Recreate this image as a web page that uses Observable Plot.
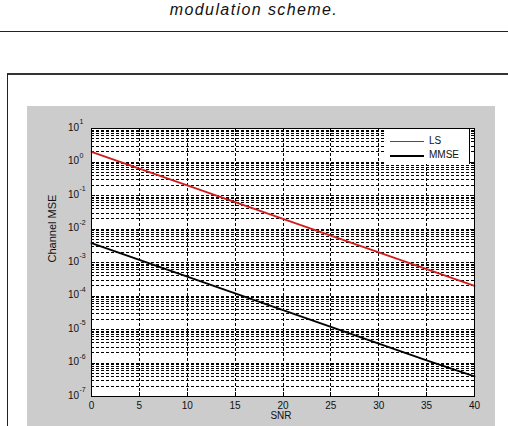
<!DOCTYPE html>
<html>
<head>
<meta charset="utf-8">
<script src="https://cdn.jsdelivr.net/npm/d3@7"></script>
<script src="https://cdn.jsdelivr.net/npm/@observablehq/plot@0.6"></script>
<style>
  html, body { margin: 0; padding: 0; background: #fff; width: 508px; height: 426px; overflow: hidden; }
  body { position: relative; font-family: "Liberation Sans", Arial, sans-serif; }
  #title { position: absolute; left: 0; top: 1px; width: 508px; text-align: center; font-style: italic; font-size: 16px; letter-spacing: 1.4px; color: #111; }
  #rule { position: absolute; left: 0; top: 31px; width: 508px; height: 0; border-top: 1px solid #222; }
  #outer { position: absolute; left: 7px; top: 73px; width: 600px; height: 400px; border-top: 2px solid #333; border-left: 1px solid #222; }
  #panel { position: absolute; left: 27px; top: 106px; width: 468px; height: 320px; background: #cccccc; }
  #chart { position: absolute; left: 27px; top: 106px; }
  #legend { position: absolute; left: 384px; top: 129px; width: 85px; height: 35px; background: #fff; border-right: 1px solid #000; font-size: 10px; }
  .lg { position: absolute; left: 6px; width: 34px; height: 0; }
  .lt { position: absolute; left: 45px; line-height: 10px; color: #111; }
</style>
</head>
<body>
<div id="title">modulation scheme.</div>
<div id="rule"></div>
<div id="outer"></div>
<div id="panel"></div>
<div id="chart"></div>
<div id="legend">
  <div class="lg" style="top:12px;border-top:1px solid #e01010;"></div>
  <div class="lt" style="top:7px;">LS</div>
  <div class="lg" style="top:26px;border-top:2px solid #000;"></div>
  <div class="lt" style="top:21px;">MMSE</div>
</div>
<script>
// Data
const snr  = [0, 5, 10, 15, 20, 25, 30, 35, 40];
const ls   = [2.0, 0.63, 0.2, 0.063, 0.02, 0.0063, 0.002, 0.00063, 0.0002];
const mmse = [3.8e-3, 1.2e-3, 3.8e-4, 1.2e-4, 3.8e-5, 1.2e-5, 3.8e-6, 1.2e-6, 4e-7];

// Tick labels
const xTicks = [0, 5, 10, 15, 20, 25, 30, 35, 40];
const yExponents = [1, 0, -1, -2, -3, -4, -5, -6, -7];

const majorY = yExponents.map(e => Math.pow(10, e));
const minorY = [];
for (const e of yExponents) {
  if (e === 1) continue;
  for (let k = 2; k <= 9; k++) minorY.push(k * Math.pow(10, e));
}
const gridY = majorY.concat(minorY).filter(v => v > 1e-7 && v < 10);
const gridX = xTicks.filter(v => v > 0 && v < 40);

const lsData = snr.map((s, i) => ({snr: s, v: ls[i]}));
const mmseData = snr.map((s, i) => ({snr: s, v: mmse[i]}));

const W = 468, H = 320, mL = 64, mR = 21, mT = 22, mB = 30;
const iw = W - mL - mR, ih = H - mT - mB;
const dash = "3,2";
const crisp = "crispEdges";

const chart = Plot.plot({
  width: W, height: H,
  marginLeft: mL, marginRight: mR, marginTop: mT, marginBottom: mB,
  style: {background: "transparent", fontFamily: "Liberation Sans, Arial, sans-serif", color: "#111", overflow: "visible"},
  x: {domain: [0, 40], axis: null},
  y: {type: "log", domain: [1e-7, 10], axis: null},
  marks: [
    Plot.frame({fill: "white", stroke: null}),
    Plot.ruleY(gridY, {y: d => d, stroke: "#000", strokeWidth: 1, strokeDasharray: dash, shapeRendering: crisp}),
    Plot.ruleX(gridX, {x: d => d, stroke: "#000", strokeWidth: 1, strokeDasharray: dash, shapeRendering: crisp}),
    // inward ticks
    Plot.ruleY(majorY, {y: d => d, insetRight: iw - 4, stroke: "#000", shapeRendering: crisp}),
    Plot.ruleY(majorY, {y: d => d, insetLeft: iw - 4, stroke: "#000", shapeRendering: crisp}),
    Plot.ruleY(minorY, {y: d => d, insetRight: iw - 2.5, stroke: "#000", shapeRendering: crisp}),
    Plot.ruleY(minorY, {y: d => d, insetLeft: iw - 2.5, stroke: "#000", shapeRendering: crisp}),
    Plot.ruleX(xTicks, {x: d => d, insetTop: ih - 4, stroke: "#000", shapeRendering: crisp}),
    Plot.ruleX(xTicks, {x: d => d, insetBottom: ih - 4, stroke: "#000", shapeRendering: crisp}),
    Plot.line(lsData, {x: "snr", y: "v", stroke: "#d01c1c", strokeWidth: 1.8}),
    Plot.line(mmseData, {x: "snr", y: "v", stroke: "#000", strokeWidth: 1.8}),
    Plot.frame({stroke: "#000", strokeWidth: 1, shapeRendering: crisp}),
    // y tick labels: 10^e
    Plot.text(yExponents, {y: e => Math.pow(10, e), text: () => "10", frameAnchor: "left", textAnchor: "end", dx: -12.5, dy: -1, fontSize: 10}),
    Plot.text(yExponents, {y: e => Math.pow(10, e), text: e => String(e), frameAnchor: "left", textAnchor: "start", dx: -12, dy: -6.5, fontSize: 7}),
    // x tick labels
    Plot.axisX(xTicks, {anchor: "bottom", tickSize: 0, tickPadding: 5, fontSize: 10, label: null}),
    Plot.text(["SNR"], {text: d => d, frameAnchor: "bottom", dy: 22, dx: -2, fontSize: 10}),
    Plot.text(["Channel MSE"], {text: d => d, frameAnchor: "left", rotate: -90, dx: -39, fontSize: 11})
  ]
});
document.getElementById("chart").appendChild(chart);
</script>
</body>
</html>
